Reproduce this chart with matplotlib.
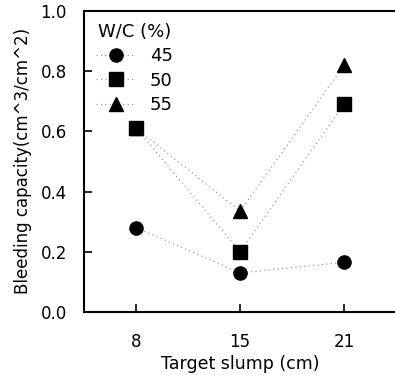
import numpy as np
import matplotlib
matplotlib.use('Agg')
import matplotlib.pyplot as plt

slump = ['8', '15', '21']
wc45 = [0.28, 0.13, 0.165]
wc50 = [0.61, 0.20, 0.69]
wc55 = [0.61, 0.335, 0.82]

plt.rcParams['font.family'] = 'DejaVu Sans'
plt.rcParams['font.size'] = 12

fig = plt.figure(figsize=(3.95, 3.75), dpi=100)
ax = fig.add_axes([0.213, 0.168, 0.79, 0.803])

x = np.arange(1, len(slump) + 1)
line_kw = dict(color='#888888', linestyle=(0, (1, 3)), linewidth=0.8,
               markerfacecolor='black', markeredgecolor='black')
ax.plot(x, wc45, marker='o', markersize=9.5, label='45', **line_kw)
ax.plot(x, wc50, marker='s', markersize=9.5, label='50', **line_kw)
ax.plot(x, wc55, marker='^', markersize=9.5, label='55', **line_kw)

ax.set_xlim(0.5, 3.5)
ax.set_ylim(0.0, 1.0)
ax.set_xticks(x)
ax.set_xticklabels(slump)
ax.set_yticks(np.arange(0, 1.01, 0.2))
ax.yaxis.set_major_formatter(plt.FormatStrFormatter('%.1f'))
ax.tick_params(direction='in', length=6, width=1.2, labelsize=12)
ax.tick_params(axis='y', pad=12.5)
ax.tick_params(axis='x', pad=15)
for s in ['left', 'bottom', 'top']:
    ax.spines[s].set_linewidth(1.5)
ax.spines['right'].set_visible(False)

ax.set_xlabel('Target slump (cm)', fontsize=12.5, labelpad=3)
ax.set_ylabel('Bleeding capacity(cm^3/cm^2)', fontsize=12, labelpad=6)

leg = ax.legend(title='W/C (%)', loc='upper left', frameon=False,
                fontsize=13, title_fontsize=13, handlelength=2.2,
                handletextpad=0.8, labelspacing=0.36, borderaxespad=0.25)

fig.savefig('out.png', dpi=100)
